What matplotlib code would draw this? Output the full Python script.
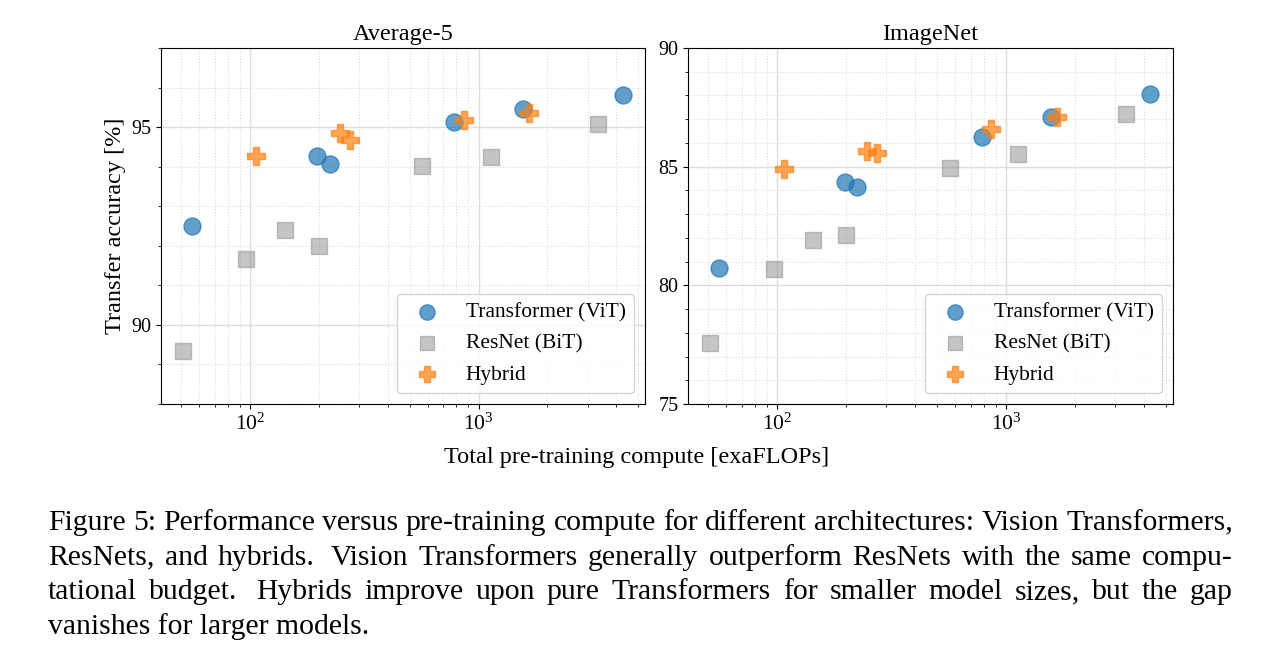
import numpy as np
import matplotlib
matplotlib.use("Agg")
import matplotlib.pyplot as plt
from matplotlib.ticker import MultipleLocator

plt.rcParams['font.family'] = ['Liberation Serif', 'DejaVu Serif']
plt.rcParams['mathtext.fontset'] = 'custom'
plt.rcParams['mathtext.rm'] = 'Liberation Serif'
plt.rcParams['mathtext.it'] = 'Liberation Serif:italic'

# pre-training compute [exaFLOPs]
vit_flops = [56, 197, 224, 783, 1573, 4266]
bit_flops = [51, 96.5, 143, 200, 566, 1131, 3320]
hybrid_flops = [106.6, 247, 274, 860, 1670]

# Average-5 transfer accuracy
vit_avg5 = [92.49, 94.27, 94.07, 95.12, 95.45, 95.82]
bit_avg5 = [89.33, 91.66, 92.41, 92.0, 94.01, 94.24, 95.09]
hybrid_avg5 = [94.27, 94.86, 94.67, 95.18, 95.36]

# ImageNet transfer accuracy
vit_imnet = [80.74, 84.36, 84.15, 86.27, 87.11, 88.07]
bit_imnet = [77.56, 80.67, 81.9, 82.11, 84.96, 85.55, 87.2]
hybrid_imnet = [84.9, 85.67, 85.57, 86.58, 87.11]

panels = [
    ('Average-5', vit_avg5, bit_avg5, hybrid_avg5, (88, 97), [90, 95]),
    ('ImageNet', vit_imnet, bit_imnet, hybrid_imnet, (75, 90), [75, 80, 85, 90]),
]

caption_lines = [
    "Figure 5: Performance versus pre-training compute for different architectures: Vision Transformers,",
    "ResNets, and hybrids. Vision Transformers generally outperform ResNets with the same compu-",
    "tational budget. Hybrids improve upon pure Transformers for smaller model sizes, but the gap",
    "vanishes for larger models.",
]

W, H = 1262, 661
fig = plt.figure(figsize=(W / 100, H / 100), dpi=100)

axes_px = [(161, 48, 645, 404), (688, 48, 1173, 404)]

for (x0, y0, x1, y1), (title, vit, bit, hyb, ylim, yticks) in zip(axes_px, panels):
    ax = fig.add_axes([x0 / W, 1 - y1 / H, (x1 - x0) / W, (y1 - y0) / H])
    ax.scatter(vit_flops, vit, s=150, marker='o', color='tab:blue', alpha=0.7,
               label='Transformer (ViT)', zorder=3)
    ax.scatter(bit_flops, bit, s=140, marker='s', color='gray', alpha=0.45,
               label='ResNet (BiT)', zorder=3)
    ax.scatter(hybrid_flops, hyb, s=160, marker='P', color='tab:orange', alpha=0.7,
               label='Hybrid', zorder=3)
    ax.set_xscale('log')
    ax.set_xlim(40.8, 5350)
    ax.set_ylim(*ylim)
    ax.set_yticks(yticks)
    ax.yaxis.set_minor_locator(MultipleLocator(1))
    ax.grid(which='major', color='#dddddd', lw=1)
    ax.grid(which='minor', color='#dddddd', lw=0.8, ls=':')
    ax.set_axisbelow(True)
    ax.tick_params(axis='y', labelsize=14.5)
    ax.tick_params(axis='x', labelsize=15.5)
    ax.set_title(title, fontsize=17.5, pad=6)
    ax.legend(loc='lower right', fontsize=15.5, markerscale=0.9)
    if title == 'Average-5':
        ax.set_ylabel('Transfer accuracy [%]', fontsize=17.5)

fig.text(636.5 / W, 1 - 458 / H, 'Total pre-training compute [exaFLOPs]',
         fontsize=17.5, ha='center', va='center')

# justified caption
cap_size = 21.3
left, right = 48, 1233
baselines = [530, 564.6, 599.2, 633.8]
renderer = fig.canvas.get_renderer()


def text_width(s):
    t = fig.text(0, 0, s, fontsize=cap_size)
    w = t.get_window_extent(renderer).width
    t.remove()
    return w


for i, (line, base) in enumerate(zip(caption_lines, baselines)):
    words = line.split(' ')
    if i == len(caption_lines) - 1:
        fig.text(left / W, 1 - base / H, line, fontsize=cap_size, va='baseline')
        continue
    widths = [text_width(w) for w in words]
    weights = [1.6 if w.endswith('.') else 1.0 for w in words[:-1]]
    extra = (right - left) - sum(widths)
    unit = extra / sum(weights)
    x = left
    for j, w in enumerate(words):
        fig.text(x / W, 1 - base / H, w, fontsize=cap_size, va='baseline')
        if j < len(weights):
            x += widths[j] + unit * weights[j]

fig.savefig('out.png', dpi=100)
